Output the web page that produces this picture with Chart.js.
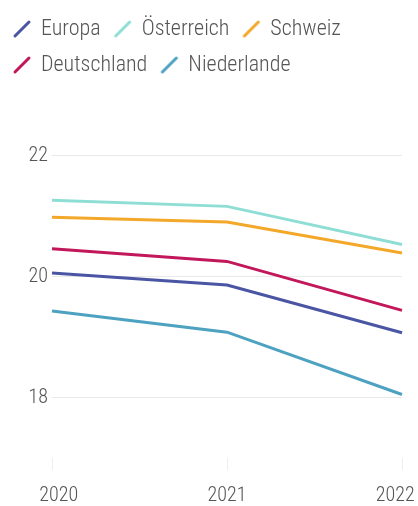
<!DOCTYPE html>
<html>
<head>
<meta charset="utf-8">
<script src="https://cdn.jsdelivr.net/npm/chart.js@4/dist/chart.umd.min.js"></script>
<style>
  html, body { margin: 0; padding: 0; background: #fff; }
  #wrap { width: 418px; height: 506px; position: relative; }
</style>
</head>
<body>
<div id="wrap"><canvas id="chart"></canvas></div>
<script>
// Data
const years = ['2020', '2021', '2022'];
const seriesNames = ['Europa', 'Österreich', 'Schweiz', 'Deutschland', 'Niederlande'];
const europa = [20.06, 19.86, 19.07];
const oesterreich = [21.26, 21.16, 20.53];
const schweiz = [20.98, 20.90, 20.39];
const deutschland = [20.46, 20.25, 19.44];
const niederlande = [19.43, 19.08, 18.05];
const yTicks = [18, 20, 22];

const colors = ['#4a55a4', '#8fded5', '#f3a82a', '#c2185b', '#4da2c2'];
const FONT = '"Roboto Condensed", "Open Sans", sans-serif';

// legend marker: short diagonal stroke
function slashMarker(color) {
    const c = document.createElement('canvas');
    c.width = 20;
    c.height = 20;
    const g = c.getContext('2d');
    g.strokeStyle = color;
    g.lineWidth = 3;
    g.lineCap = 'round';
    g.beginPath();
    g.moveTo(3, 17);
    g.lineTo(17, 3);
    g.stroke();
    return c;
}

const values = [europa, oesterreich, schweiz, deutschland, niederlande];
const datasets = seriesNames.map((name, i) => ({
    label: name,
    data: values[i],
    borderColor: colors[i],
    backgroundColor: colors[i],
    borderWidth: 3,
    pointRadius: 0,
    tension: 0,
    pointStyle: slashMarker(colors[i])
}));

new Chart(document.getElementById('chart'), {
    type: 'line',
    data: { labels: years, datasets: datasets },
    options: {
        responsive: true,
        maintainAspectRatio: false,
        animation: false,
        layout: { padding: { top: 4, right: 16, bottom: 0, left: 0 } },
        plugins: {
            legend: {
                position: 'top',
                align: 'start',
                labels: {
                    usePointStyle: true,
                    pointStyleWidth: 16,
                    padding: 14,
                    color: '#555',
                    font: { family: FONT, size: 22, weight: 300 }
                }
            },
            tooltip: { enabled: false }
        },
        scales: {
            x: {
                border: { display: false },
                grid: {
                    drawOnChartArea: false,
                    tickLength: 12,
                    color: '#eeeeee'
                },
                ticks: {
                    color: '#555',
                    padding: 14,
                    maxRotation: 0,
                    font: { family: FONT, size: 20, weight: 300 },
                    // nudge the end labels inward like the original
                    callback: function (v, i) {
                        const l = years[i];
                        if (i === 0) return '   ' + l;
                        if (i === years.length - 1) return l + '   ';
                        return l;
                    }
                },
                afterFit: function (scale) {
                    scale.paddingLeft = 0;
                    scale.paddingRight = 0;
                    scale.height = 48;
                }
            },
            y: {
                min: 17,
                max: 23.15,
                border: { display: false },
                grid: { drawTicks: false, color: '#e9e9e9', lineWidth: 1 },
                afterBuildTicks: function (axis) {
                    axis.ticks = yTicks.map(v => ({ value: v }));
                },
                ticks: {
                    color: '#555',
                    padding: 4,
                    font: { family: FONT, size: 20, weight: 300 }
                },
                afterFit: function (scale) {
                    scale.width = 52;
                }
            }
        }
    }
});
</script>
</body>
</html>
